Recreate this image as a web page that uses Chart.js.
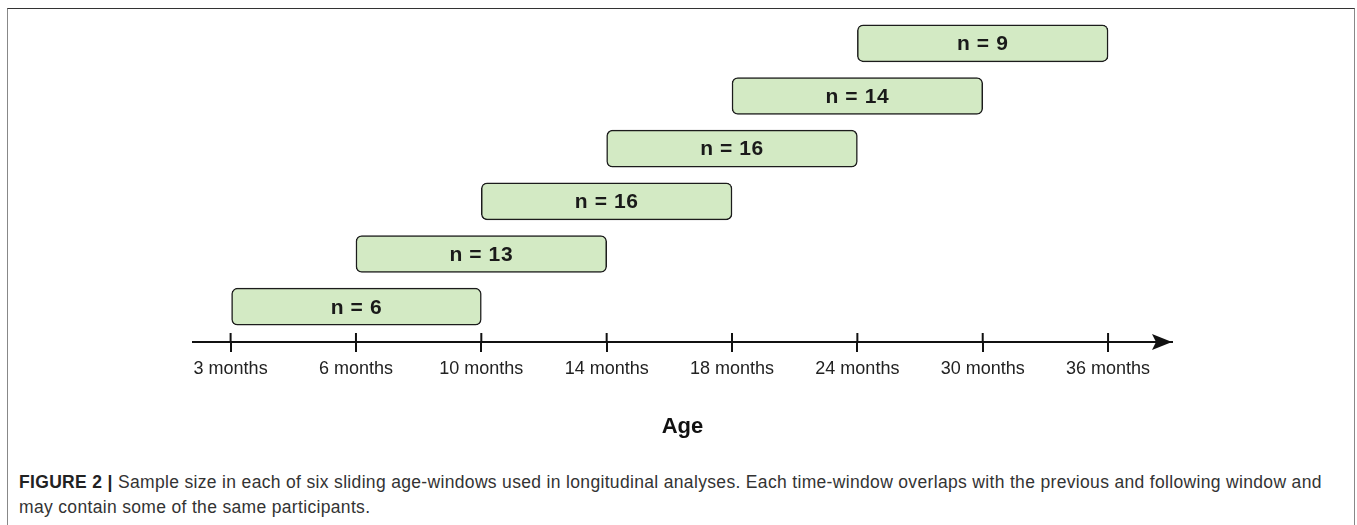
<!DOCTYPE html>
<html>
<head>
<meta charset="utf-8">
<script src="https://cdn.jsdelivr.net/npm/chart.js@4"></script>
<style>
  body { margin: 0; background: #fff; width: 1357px; height: 525px; overflow: hidden; position: relative; }
  .frame { position: absolute; left: 7px; top: 8px; width: 1346px; height: 530px;
           border-top: 1.5px solid #333; border-left: 1.5px solid #888; border-right: 1.5px solid #888; }
  #graph { position: absolute; left: 0; top: 0; }
  .caption { position: absolute; left: 19px; top: 470px; font-family: "Liberation Sans", Arial, sans-serif;
             font-size: 17.5px; letter-spacing: 0.33px; line-height: 25px; color: #333; white-space: nowrap; }
  .caption b { color: #222; }
</style>
</head>
<body>
<div class="frame"></div>
<canvas id="graph" width="1357" height="441"></canvas>
<div class="caption"><b>FIGURE 2 |</b> Sample size in each of six sliding age-windows used in longitudinal analyses. Each time-window overlaps with the previous and following window and<br>may contain some of the same participants.</div>
<script>
// age tick labels along the axis
const ageLabels = ['3 months', '6 months', '10 months', '14 months', '18 months', '24 months', '30 months', '36 months'];
// each window runs from one tick index to another
const windowStart = [0, 1, 2, 3, 4, 5];
const windowEnd = [2, 3, 4, 5, 6, 7];
// sample size per window
const sampleSizes = [6, 13, 16, 16, 14, 9];

const windows = sampleSizes.map((n, i) => ({ x: [windowStart[i], windowEnd[i]], y: i + 1 }));

// arrow head, upper half of tick marks, and n labels
const axisExtras = {
  id: 'axisExtras',
  afterDraw(chart) {
    const ctx = chart.ctx;
    const xs = chart.scales.x;
    const y0 = chart.chartArea.bottom;
    ctx.save();
    ctx.strokeStyle = '#111';
    ctx.lineWidth = 2;
    xs.ticks.forEach(t => {
      const px = xs.getPixelForValue(t.value);
      ctx.beginPath();
      ctx.moveTo(px, y0 - 9);
      ctx.lineTo(px, y0);
      ctx.stroke();
    });
    const tip = chart.chartArea.right;
    ctx.fillStyle = '#111';
    ctx.beginPath();
    ctx.moveTo(tip, y0);
    ctx.lineTo(tip - 20, y0 - 8);
    ctx.lineTo(tip - 16, y0);
    ctx.lineTo(tip - 20, y0 + 8);
    ctx.closePath();
    ctx.fill();

    const meta = chart.getDatasetMeta(0);
    ctx.font = 'bold 21px "Liberation Sans", Arial, sans-serif';
    ctx.letterSpacing = '0.6px';
    ctx.fillStyle = '#1a1a1a';
    ctx.textAlign = 'center';
    ctx.textBaseline = 'middle';
    meta.data.forEach((bar, i) => {
      const c = bar.getCenterPoint();
      ctx.fillText('n = ' + sampleSizes[i], c.x, c.y + 1);
    });
    ctx.restore();
  }
};

const ctx = document.getElementById('graph').getContext('2d');
new Chart(ctx, {
  type: 'bar',
  data: {
    datasets: [{
      data: windows,
      backgroundColor: '#d3eac4',
      borderColor: '#1c1c1c',
      borderWidth: 1.5,
      borderRadius: 6,
      borderSkipped: false,
      barThickness: 37
    }]
  },
  options: {
    indexAxis: 'y',
    responsive: false,
    animation: false,
    layout: { padding: { left: 193, right: 185, top: 8, bottom: 1 } },
    plugins: { legend: { display: false }, tooltip: { enabled: false } },
    scales: {
      x: {
        type: 'linear',
        min: -0.3,
        max: 7.51,
        afterBuildTicks: axis => { axis.ticks = ageLabels.map((_, i) => ({ value: i })); },
        ticks: {
          callback: v => ageLabels[v],
          color: '#222',
          padding: 6,
          maxRotation: 0,
          autoSkip: false,
          font: { family: '"Liberation Sans", Arial, sans-serif', size: 18 }
        },
        grid: { display: true, drawOnChartArea: false, drawTicks: true, tickLength: 10, color: '#111', lineWidth: 2 },
        border: { display: true, color: '#111', width: 2 },
        title: {
          display: true,
          text: 'Age',
          color: '#111',
          padding: { top: 28, bottom: 0 },
          font: { family: '"Liberation Sans", Arial, sans-serif', size: 22, weight: 'bold' }
        }
      },
      y: {
        type: 'linear',
        display: false,
        offset: false,
        min: 0.33,
        max: 6.67
      }
    }
  },
  plugins: [axisExtras]
});
</script>
</body>
</html>
